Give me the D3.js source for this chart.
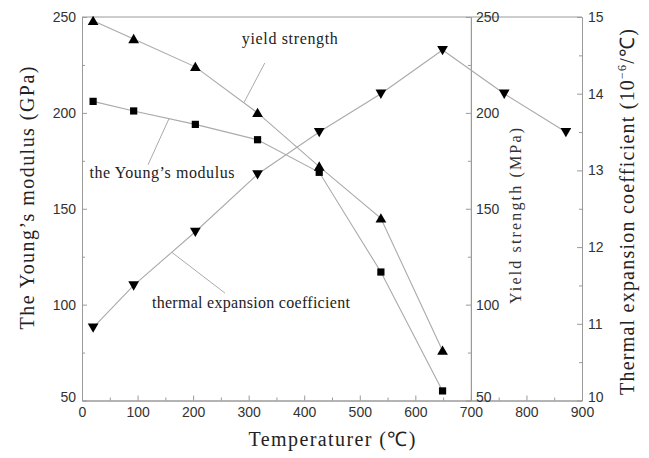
<!DOCTYPE html>
<html><head><meta charset="utf-8">
<script src="https://cdn.jsdelivr.net/npm/d3@7"></script>
<style>
html,body{margin:0;padding:0;background:#fff;}
svg{display:block;}
</style></head>
<body>
<svg id="chart" width="649" height="458"></svg>
<script>
// ---------- data ----------
const temps = [20, 93, 204, 316, 427, 538, 649];
const youngsModulus = [206, 201, 194, 186, 169, 117, 55];        // GPa (left axis)
const yieldStrength = [248, 238.5, 224, 200, 172, 145, 76];       // MPa (inner right axis)
const thermalTemps = [20, 93, 204, 316, 427, 538, 649, 760, 871];
const thermalCoef = [10.95, 11.5, 12.2, 12.95, 13.5, 14.0, 14.57, 14.0, 13.5]; // 10^-6/°C
const xTicks = [0, 100, 200, 300, 400, 500, 600, 700, 800, 900];
const leftTicks = [50, 100, 150, 200, 250];
const yieldTicks = [50, 100, 150, 200, 250];
const thermalTicks = [10, 11, 12, 13, 14, 15];
// annotations: label text, label anchor (temp,value), leader from/to (temp,value), scale
const annotations = [
  {text: "yield strength", scale: "y", lx: 374, ly: 236, lw: 96, from: [329, 226], to: [291.6, 205.4]},
  {text: "the Young\u2019s modulus", scale: "y", lx: 144, ly: 166, lw: 145, from: [118.8, 172.9], to: [156.6, 197]},
  {text: "thermal expansion coefficient", scale: "t", lx: 304, ly: 11.2, lw: 198, from: [257.4, 11.40], to: [162, 11.93]}
];

// ---------- scales ----------
const svg = d3.select("#chart");
const x = d3.scaleLinear().domain([0, 900]).range([82, 582]);
const y = d3.scaleLinear().domain([50, 250]).range([400.5, 17]);
const yY = d3.scaleLinear().domain([50, 250]).range([400.5, 17]);
const yT = d3.scaleLinear().domain([10, 15]).range([400.5, 17]);

const axisColor = "#9a9a9a";
const lineColor = "#aaaaaa";
const tickFont = "'Liberation Sans', Arial, sans-serif";
const serif = "'Liberation Serif', 'Times New Roman', serif";

function styleAxis(g) {
  g.selectAll("path.domain").attr("stroke", axisColor).attr("stroke-width", 1);
  g.selectAll(".tick line").attr("stroke", axisColor);
  g.selectAll(".tick text").attr("fill", "#333").attr("font-family", tickFont).attr("font-size", 14);
}
// lowest label on the right-hand axes sits just above the bottom axis labels
function liftBottomLabel(g, v) {
  g.selectAll(".tick").filter(d => d === v).select("text").attr("dy", "0.05em");
}
const mids = a => a.slice(0, -1).map((v, i) => (v + a[i + 1]) / 2);

// top frame line
svg.append("line").attr("x1", x(0)).attr("x2", x(900)).attr("y1", y(250)).attr("y2", y(250))
  .attr("stroke", axisColor);

// bottom axis
svg.append("g").attr("transform", `translate(0,${y(50)})`)
  .call(d3.axisBottom(x).tickValues(mids(xTicks)).tickSizeInner(-3).tickSizeOuter(0).tickFormat(""))
  .call(styleAxis);
svg.append("g").attr("transform", `translate(0,${y(50)})`)
  .call(d3.axisBottom(x).tickValues(xTicks).tickSizeInner(-5).tickSizeOuter(0).tickPadding(7).tickFormat(d3.format("d")))
  .call(styleAxis);

// left axis
svg.append("g").attr("transform", `translate(${x(0)},0)`)
  .call(d3.axisLeft(y).tickValues(mids(leftTicks)).tickSizeInner(-3).tickSizeOuter(0).tickFormat(""))
  .call(styleAxis);
svg.append("g").attr("transform", `translate(${x(0)},0)`)
  .call(d3.axisLeft(y).tickValues(leftTicks).tickSizeInner(-5).tickSizeOuter(0).tickPadding(6).tickFormat(d3.format("d")))
  .call(styleAxis).call(g => liftBottomLabel(g, 50));

// inner right axis (yield strength) at 700
svg.append("g").attr("transform", `translate(${x(700)},0)`)
  .call(d3.axisRight(yY).tickValues(mids(yieldTicks)).tickSizeInner(-3).tickSizeOuter(0).tickFormat(""))
  .call(styleAxis);
svg.append("g").attr("transform", `translate(${x(700)},0)`)
  .call(d3.axisRight(yY).tickValues(yieldTicks).tickSizeInner(-5).tickSizeOuter(0).tickPadding(5).tickFormat(d3.format("d")))
  .call(styleAxis).call(g => liftBottomLabel(g, 50));

// outer right axis (thermal)
svg.append("g").attr("transform", `translate(${x(900)},0)`)
  .call(d3.axisRight(yT).tickValues(mids(thermalTicks)).tickSizeInner(-3).tickSizeOuter(0).tickFormat(""))
  .call(styleAxis);
svg.append("g").attr("transform", `translate(${x(900)},0)`)
  .call(d3.axisRight(yT).tickValues(thermalTicks).tickSizeInner(-5).tickSizeOuter(0).tickPadding(6).tickFormat(d3.format("d")))
  .call(styleAxis).call(g => liftBottomLabel(g, 10));

// ---------- series ----------
const line = (xs, ys, sy) => d3.line().x((d, i) => x(xs[i])).y(d => sy(d))(ys);

svg.append("path").attr("d", line(temps, youngsModulus, y)).attr("fill", "none").attr("stroke", lineColor).attr("stroke-width", 1.1);
svg.append("path").attr("d", line(temps, yieldStrength, yY)).attr("fill", "none").attr("stroke", lineColor).attr("stroke-width", 1.1);
svg.append("path").attr("d", line(thermalTemps, thermalCoef, yT)).attr("fill", "none").attr("stroke", lineColor).attr("stroke-width", 1.1);

// annotations (leaders + labels)
annotations.forEach(a => {
  const sc = a.scale === "t" ? yT : y;
  svg.append("line")
    .attr("x1", x(a.from[0])).attr("y1", sc(a.from[1]))
    .attr("x2", x(a.to[0])).attr("y2", sc(a.to[1]))
    .attr("stroke", lineColor).attr("stroke-width", 1);
  svg.append("text").attr("x", x(a.lx)).attr("y", sc(a.ly))
    .attr("text-anchor", "middle").attr("font-family", serif).attr("font-size", 16)
    .attr("fill", "#222").attr("textLength", a.lw).attr("lengthAdjust", "spacing")
    .text(a.text);
});

// markers
svg.append("g").selectAll("path").data(youngsModulus).join("path")
  .attr("transform", (d, i) => `translate(${x(temps[i])},${y(d)})`)
  .attr("d", d3.symbol(d3.symbolSquare, 52)()).attr("fill", "#000");
svg.append("g").selectAll("path").data(yieldStrength).join("path")
  .attr("transform", (d, i) => `translate(${x(temps[i])},${yY(d) + 1})`)
  .attr("d", d3.symbol(d3.symbolTriangle, 50)()).attr("fill", "#000");
svg.append("g").selectAll("path").data(thermalCoef).join("path")
  .attr("transform", (d, i) => `translate(${x(thermalTemps[i])},${yT(d) - 1}) rotate(180)`)
  .attr("d", d3.symbol(d3.symbolTriangle, 50)()).attr("fill", "#000");

// ---------- titles ----------
svg.append("text").attr("x", 332).attr("y", 446).attr("text-anchor", "middle")
  .attr("font-family", serif).attr("font-size", 20).attr("fill", "#222")
  .attr("textLength", 167).attr("lengthAdjust", "spacing")
  .text("Temperaturer (\u2103)");

svg.append("text").attr("transform", "translate(34,198) rotate(-90)").attr("text-anchor", "middle")
  .attr("font-family", serif).attr("font-size", 20).attr("fill", "#222")
  .attr("textLength", 263).attr("lengthAdjust", "spacing")
  .text("The Young\u2019s modulus (GPa)");

svg.append("text").attr("transform", "translate(521,216) rotate(-90)").attr("text-anchor", "middle")
  .attr("font-family", serif).attr("font-size", 16).attr("fill", "#333")
  .attr("textLength", 176).attr("lengthAdjust", "spacing")
  .text("Yield strength  (MPa)");

const tt = svg.append("text").attr("transform", "translate(634,212) rotate(-90)").attr("text-anchor", "middle")
  .attr("font-family", serif).attr("font-size", 20).attr("fill", "#222")
  .attr("textLength", 366).attr("lengthAdjust", "spacing");
tt.append("tspan").text("Thermal expansion coefficient (10");
tt.append("tspan").attr("font-size", 12).attr("dy", -8).text("\u22126");
tt.append("tspan").attr("dy", 8).text("/\u2103)");
</script>
</body></html>
